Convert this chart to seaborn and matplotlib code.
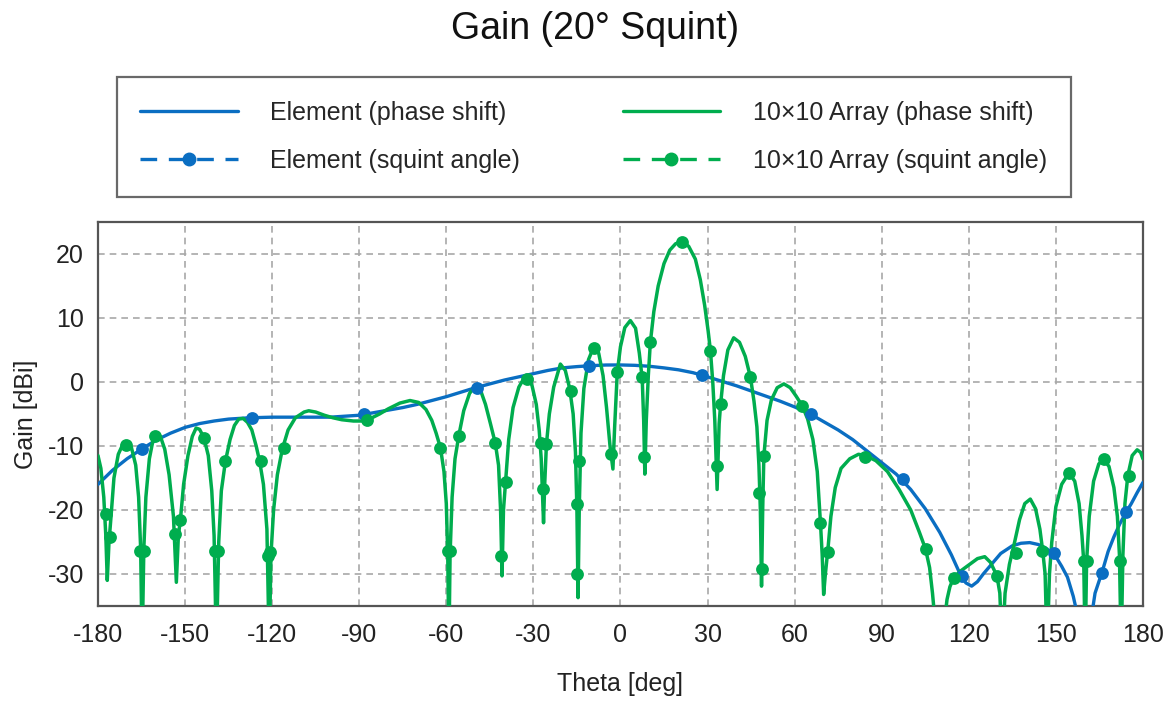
import matplotlib
matplotlib.use("Agg")
import matplotlib.pyplot as plt
from matplotlib.lines import Line2D
import seaborn as sns

# === Element pattern (phase shift) ===
theta_elem = [-180, -175, -170, -165, -160, -155, -150, -145, -140, -135, -128, -120,
              -110, -100, -90, -85, -80, -75, -70, -65, -60, -55, -50, -45, -40, -35,
              -30, -25, -20, -15, -10, -5, 0, 5, 10, 15, 20, 25, 30, 35, 40, 45, 50,
              55, 60, 65, 70, 75, 80, 85, 90, 95, 100, 105, 110, 114, 117, 119, 121,
              123, 125, 128, 131, 135, 138, 141, 144, 147, 150, 152, 154, 156, 158,
              160, 162, 163.5, 166, 168, 170, 172, 174, 176, 178, 180]
gain_elem = [-16.0, -13.8, -12.0, -10.5, -9.1, -8.0, -7.1, -6.5, -6.1, -5.8, -5.6, -5.5,
             -5.5, -5.5, -5.2, -4.8, -4.4, -4.0, -3.5, -2.9, -2.3, -1.6, -0.9, -0.3, 0.3, 0.8,
             1.3, 1.8, 2.2, 2.4, 2.55, 2.65, 2.66, 2.6, 2.45, 2.2, 1.9, 1.45, 0.8, 0.1, -0.6,
             -1.4, -2.2, -3.0, -3.9, -4.9, -6.2, -7.5, -9.0, -10.8, -12.6, -14.4, -16.8,
             -19.8, -23.5, -27.0, -30.0, -31.4, -31.9, -31.2, -30.0, -28.4, -26.8, -25.6,
             -25.2, -25.1, -25.4, -26.1, -27.3, -28.8, -30.5, -33.5, -37.5, -42.0, -37.5,
             -33.0, -29.6, -26.5, -24.2, -22.2, -20.5, -19.0, -17.3, -15.7]

# === 10x10 array pattern (phase shift) ===
theta_arr = [-180, -179, -178, -177.3, -176.8, -176.2, -175.5, -174.5, -173, -171.5, -170,
             -168.5, -167, -166, -165.3, -164.8, -164.2, -163.5, -162.3, -161, -160, -158.5,
             -157, -155.5, -154, -153, -152.3, -151.6, -150.5, -149, -147.5, -146.2, -145,
             -143.5, -142, -140.8, -140, -139.2, -138.4, -137.5, -136.1, -134.5, -133,
             -131.5, -130, -128.5, -127, -125.5, -124.3, -123, -121.8, -121, -120.4, -119.5,
             -118.2, -116.5, -114.5, -112, -109, -107.4, -105, -102, -99, -96, -92, -89,
             -86.5, -83, -80, -76, -72.5, -69.5, -67, -65, -63.5, -62, -60.8, -60, -59.5,
             -59.1, -58.7, -58, -57, -55.7, -54, -52, -50, -48.2, -46.5, -44.8, -43.1, -42,
             -41.3, -40.8, -40.3, -39.6, -38.5, -37, -35, -32.7, -30.5, -29, -28, -27.3,
             -26.9, -26.5, -26.1, -25.5, -24.5, -23, -20.7, -19, -17.5, -16.3, -15.5, -15,
             -14.6, -14.2, -13.6, -12.6, -11, -9.2, -7.5, -6, -4.8, -3.6, -2.6, -2, -1.1, 0,
             1.5, 3.4, 5.2, 6.5, 7.5, 8.0, 8.4, 8.9, 9.6, 10.3, 11.5, 13, 15, 17, 19, 21.2,
             23.5, 25.8, 27.5, 29, 30.2, 31, 31.8, 32.5, 33.3, 34, 34.5, 35.5, 37, 39, 41,
             43, 44.8, 46, 47, 47.7, 48.2, 48.6, 49.0, 49.4, 50.5, 52, 54, 56.3, 58.5, 60.5,
             62.6, 64.5, 66.3, 67.8, 68.9, 69.5, 70.0, 70.6, 71.5, 72.5, 74, 76, 79, 82,
             84.4, 88, 92, 96, 100, 103, 105.1, 106.5, 107.5, 108.5, 110, 111.5, 112.5,
             113.5, 114.8, 117, 120, 123, 125.5, 127.5, 129.7, 130.7, 131.5, 132.5, 134,
             135.8, 137.5, 139.3, 141.2, 143, 144.5, 145.5, 146.3, 147, 147.8, 148.6, 150,
             152, 154.5, 156.5, 158, 159, 159.6, 160.1, 160.6, 161.5, 163, 164.8, 166.5,
             168.3, 170, 171.2, 171.9, 172.5, 173.1, 173.8, 174.8, 176.3, 178, 179.2, 180]
gain_arr = [-11.5, -13.5, -18, -24, -31, -25, -21, -15, -11.3, -9.8, -9.5,
            -10.2, -13, -18, -26, -42, -26, -18, -12, -9, -8.3, -8.5,
            -10.5, -14.5, -21, -31.3, -24, -21.5, -16, -11.5, -8.5, -7.2, -7.4,
            -8.7, -11.5, -17, -24, -42, -25, -17, -12.4, -9, -6.8,
            -5.8, -5.7, -6.3, -7.5, -10, -12.4, -16, -23, -42, -27, -20,
            -14.5, -10.5, -7.5, -5.6, -4.7, -4.5, -4.7, -5.2, -5.6, -5.9, -6.1, -6.1,
            -5.8, -5.0, -4.2, -3.3, -2.9, -3.2, -4.3, -6, -8, -10.3, -14, -19, -27,
            -42, -27, -18, -12, -8.4, -4.5, -1.8, -0.6, -1.3, -3.5, -6.5, -9.6, -13,
            -20, -30.3, -20, -15.7, -9, -4, -0.8, 1.0, -0.5, -3.5, -7.5, -12,
            -17, -22, -16, -9.7, -5, -0.8, 2.8, 1.8, -1, -5, -11, -20,
            -33.7, -20, -8, -1, 3.5, 5.5, 4.5, 1, -4, -10, -13.6, -7, 1.5, 5.5,
            8.5, 9.6, 8.4, 4.5, 0.5, -6, -14.4, -6, 1, 6.2, 11, 15, 18.5, 20.6, 21.6, 21.9,
            21.2, 19.2, 16, 12, 8, 4.9, 0, -6, -16.8, -6.5, -3.5, 1, 5, 6.9, 6.2,
            4, 0.7, -3, -7, -13, -20, -31.9, -20, -11.6, -6, -2.8, -0.9, -0.3, -0.9, -2.2,
            -3.7, -5.8, -9, -14, -22, -27, -33.2, -30, -26, -21, -16.5, -13.5, -12, -11.3,
            -11.5, -12.3, -14, -16.8, -20, -23.5, -26.1, -29, -33, -38, -45, -38, -34,
            -32, -30.6, -29.6, -28.6, -27.6, -27.3, -28.2, -30.3, -33, -42, -33, -28.5,
            -25, -21.5, -19, -18.3, -19.8, -23, -26.5, -30, -42, -30, -25, -19.5,
            -16, -14.2, -15.5, -19, -24, -28, -42, -28, -21, -15.5, -12.8, -12.1,
            -13.2, -16.5, -21, -27, -42, -27, -19, -14.6, -11.5, -10.6, -11, -12]

# === Squint-angle series (only the marker samples show) ===
elem_mk_theta = [-164.8, -127, -88.4, -49.4, -10.9, 28.1, 65.5, 97.3, 117.5, 149.5, 165.8, 174.3]
elem_mk_gain = [-10.5, -5.7, -5.0, -0.9, 2.5, 1.1, -5.05, -15.2, -30.3, -26.8, -29.9, -20.3]

arr_mk_theta = [-177.4, -175.7, -170.2, -165.5, -164.2, -160.2, -153.5, -151.6, -143.5,
                -139.6, -138.6, -136.1, -124.0, -121.3, -120.6, -116.0, -87.3, -62.0,
                -59.4, -58.6, -55.7, -43.1, -41.0, -39.6, -32.2, -27.3, -26.8, -25.5,
                -17.2, -14.4, -15.1, -14.9, -9.2, -3.4, -1.1, 7.5, 8.0, 10.3, 21.2, 31.0,
                34.5, 33.3, 44.8, 49.4, 47.9, 48.8, 62.6, 68.9, 71.5, 84.4, 105.1, 114.8,
                129.8, 136.1, 145.3, 154.7, 159.6, 160.6, 166.5, 172.2, 175.1]
arr_mk_gain = [-20.7, -24.3, -9.9, -26.4, -26.4, -8.4, -23.8, -21.5, -8.7,
               -26.4, -26.4, -12.3, -12.3, -27.2, -26.6, -10.3, -6.0, -10.3,
               -26.4, -26.4, -8.4, -9.5, -27.2, -15.7, 0.4, -9.5, -16.8, -9.7,
               -1.4, -12.3, -19.1, -30.0, 5.3, -11.3, 1.5, 0.7, -11.8, 6.2, 21.8, 4.9,
               -3.5, -13.1, 0.7, -11.6, -17.3, -29.3, -3.7, -22.0, -26.5, -11.8, -26.1, -30.6,
               -30.3, -26.7, -26.4, -14.2, -28.0, -28.0, -12.1, -28.0, -14.7]

x_ticks = list(range(-180, 181, 30))
y_ticks = [-30, -20, -10, 0, 10, 20]

BLUE = "#0a6ec2"
GREEN = "#00ad4e"

sns.set_theme(style="white")
plt.rcParams["font.family"] = ["Liberation Sans", "DejaVu Sans"]
plt.rcParams["axes.unicode_minus"] = False

fig = plt.figure(figsize=(11.72, 7.02), dpi=100)
ax = fig.add_axes([0.0836, 0.1368, 0.8916, 0.547])

# === Curves ===
sns.lineplot(x=theta_elem, y=gain_elem, ax=ax, color=BLUE, lw=2.4, estimator=None, sort=False, zorder=3)
sns.lineplot(x=theta_arr, y=gain_arr, ax=ax, color=GREEN, lw=2.5, estimator=None, sort=False, zorder=4)
sns.scatterplot(x=elem_mk_theta, y=elem_mk_gain, ax=ax, color=BLUE, s=85, linewidth=0, zorder=5)
sns.scatterplot(x=arr_mk_theta, y=arr_mk_gain, ax=ax, color=GREEN, s=85, linewidth=0, zorder=6)

ax.set_xlim(-180, 180)
ax.set_ylim(-35, 25)
ax.set_xticks(x_ticks)
ax.set_yticks(y_ticks)
ax.tick_params(axis="x", labelsize=18, length=0, pad=12, colors="#222222")
ax.tick_params(axis="y", labelsize=18, length=0, pad=10, colors="#222222")
ax.grid(True, color="#a8a8a8", linestyle=(0, (4, 3)), linewidth=1.2)
for sp in ax.spines.values():
    sp.set_color("#555555")
    sp.set_linewidth(1.6)

ax.set_xlabel("Theta [deg]", fontsize=18, labelpad=18.5, color="#222222")
ax.set_ylabel("Gain [dBi]", fontsize=18, labelpad=7, color="#222222")
fig.suptitle("Gain (20° Squint)", fontsize=27, x=0.508, y=0.985, color="#111111")

# === Legend ===
handles = [
    Line2D([], [], color=BLUE, lw=2.4),
    Line2D([], [], color=BLUE, lw=2.4, ls=(0, (5, 3.5)), marker="o", markersize=9),
    Line2D([], [], color=GREEN, lw=2.4),
    Line2D([], [], color=GREEN, lw=2.4, ls=(0, (5, 3.5)), marker="o", markersize=9),
]
labels = ["Element (phase shift)", "Element (squint angle)",
          "10×10 Array (phase shift)", "10×10 Array (squint angle)"]
leg = ax.legend(handles, labels, ncol=2, loc="center", bbox_to_anchor=(0.5064, 0.8048),
                bbox_transform=fig.transFigure, fontsize=18, frameon=True, fancybox=False,
                handlelength=3.9, handletextpad=1.3, columnspacing=4.1, labelspacing=0.96,
                borderpad=0.95, numpoints=1)
leg.get_frame().set_edgecolor("#444444")
leg.get_frame().set_linewidth(1.6)

fig.savefig("out.png", dpi=100)
